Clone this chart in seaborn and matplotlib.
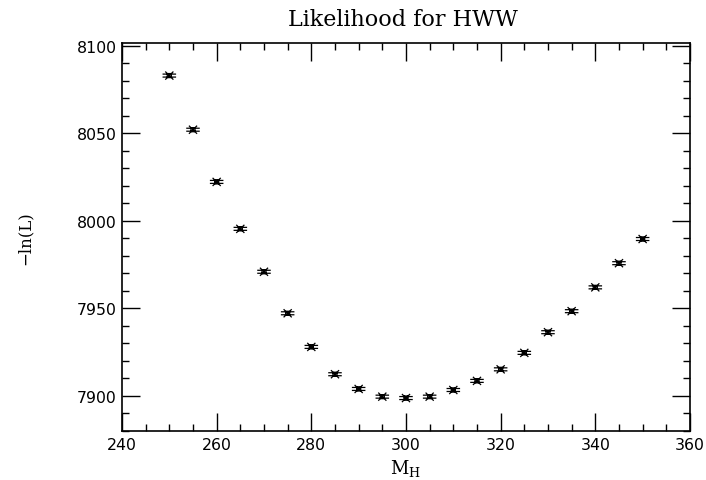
import numpy as np
import matplotlib
matplotlib.use('Agg')
import matplotlib.pyplot as plt
from matplotlib.path import Path
from matplotlib.ticker import MultipleLocator
import seaborn as sns
import pandas as pd

# Higgs mass hypotheses and the -ln(L) values
mass = [250, 255, 260, 265, 270, 275, 280, 285, 290, 295, 300,
        305, 310, 315, 320, 325, 330, 335, 340, 345, 350]
neg_ln_l = [8082.9, 8052.0, 8022.2, 7995.4, 7970.9, 7947.2, 7928.0, 7912.4,
            7904.0, 7899.6, 7898.8, 7899.6, 7903.4, 7908.6, 7915.2, 7924.6,
            7936.4, 7948.4, 7962.0, 7975.8, 7989.6]

title = 'Likelihood for HWW'
xlabel = r'M$_{\rm H}$'
ylabel = '\u2212ln(L)'


def star_marker():
    # small box with two horizontal bars and diagonal strokes
    verts, codes = [], []

    def seg(a, b):
        verts.extend([a, b])
        codes.extend([Path.MOVETO, Path.LINETO])

    s = 0.3
    seg((-s, -s), (s, -s)); seg((s, -s), (s, s))
    seg((s, s), (-s, s)); seg((-s, s), (-s, -s))
    seg((-1.0, 0.22), (1.0, 0.22))
    seg((-1.0, -0.22), (1.0, -0.22))
    seg((-0.6, -0.6), (0.6, 0.6))
    seg((-0.6, 0.6), (0.6, -0.6))
    return Path(verts, codes)


df = pd.DataFrame({'mass': mass, 'nll': neg_ln_l})

sns.set_style('ticks')
plt.rcParams['mathtext.fontset'] = 'dejavuserif'
plt.rcParams['text.color'] = 'black'
plt.rcParams['axes.labelcolor'] = 'black'

fig = plt.figure(figsize=(7.06, 4.81), dpi=100)
ax = fig.add_axes([0.1728, 0.1019, 0.8045, 0.8066])

sns.scatterplot(data=df, x='mass', y='nll', ax=ax, marker=star_marker(),
                s=95, facecolor='none', edgecolor='black', linewidth=0.9,
                color='black', legend=False)

ax.set_xlim(240, 360)
ax.set_ylim(7880, 8101.5)
ax.xaxis.set_major_locator(MultipleLocator(20))
ax.xaxis.set_minor_locator(MultipleLocator(5))
ax.yaxis.set_major_locator(MultipleLocator(50))
ax.yaxis.set_minor_locator(MultipleLocator(10))
ax.tick_params(which='both', direction='in', top=True, right=True,
               color='black', width=1.0, labelcolor='black')
ax.tick_params(which='major', length=13, pad=4)
ax.tick_params(which='minor', length=5)
ax.tick_params(labelsize=11.3)
for lab in ax.get_xticklabels() + ax.get_yticklabels():
    lab.set_family('DejaVu Sans')
for sp in ax.spines.values():
    sp.set_linewidth(1.2)
    sp.set_color('black')

ax.set_xlabel(xlabel, family='DejaVu Serif', fontsize=13, labelpad=4)
ax.set_ylabel(ylabel, family='DejaVu Serif', fontsize=12, labelpad=31)
fig.text(0.571, 0.958, title, family='DejaVu Serif', fontsize=16,
         ha='center', va='center')

fig.savefig('out.png', dpi=100)
